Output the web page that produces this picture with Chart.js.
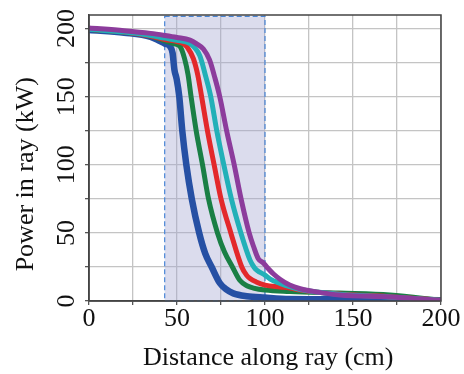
<!DOCTYPE html>
<html>
<head>
<meta charset="utf-8">
<script src="https://cdn.jsdelivr.net/npm/chart.js@4.4.1/dist/chart.umd.min.js"></script>
<style>
  html, body { margin: 0; padding: 0; background: #fff; }
</style>
</head>
<body>
<canvas id="grafico" width="464" height="374"></canvas>
<script>
// valores (distância em cm, potência em kW)
const distBlue = [0, 20, 35, 40, 43, 46, 47.5, 48.5, 49.8, 51.3, 53, 55.3, 58.4, 62.6, 66, 69.7, 74.4, 78, 82, 89.6, 100, 114, 150, 200];
const powerBlue = [199, 197, 194, 191, 189, 187, 182, 170, 163, 150, 125, 100, 75, 50, 35, 25, 13, 8.5, 5.6, 3.5, 2.5, 1.5, 1.2, 0.5];

const distGreen = [0, 20, 35, 43, 48, 51.7, 54.3, 56.3, 58, 60.9, 64.5, 67.9, 73, 77, 81.5, 85.8, 90, 93.4, 100, 114, 142, 171, 200];
const powerGreen = [199.5, 197.3, 194.5, 191, 189, 187, 178, 166, 150, 125, 100, 75, 50, 36, 25, 15, 11, 9.5, 8, 7, 5.8, 4.4, 0.5];

const distRed = [0, 20, 35, 43, 50, 53.6, 56, 59.3, 61.8, 64, 67.3, 71.1, 75, 80.6, 86.8, 89.5, 91.5, 95, 100, 108.5, 114, 120, 142, 170, 200];
const powerRed = [199.5, 197.5, 194.5, 192, 190.5, 189, 186, 178, 166, 150, 125, 100, 75, 50, 25, 19, 16.5, 14, 11.7, 10.3, 9.5, 8, 5.2, 3.2, 0.5];

const distCyan = [0, 20, 35, 43, 50, 57.4, 60, 63, 66.3, 69.2, 72.6, 76.6, 80.9, 86.3, 91.5, 93.7, 95.3, 100, 103, 108.5, 114, 120, 142, 170, 200];
const powerCyan = [199.5, 197.5, 195, 193, 191.5, 189, 186, 180, 165, 150, 125, 100, 75, 50, 30, 25, 22.7, 19, 16, 13, 10.5, 8.5, 5, 3, 0.5];

const distPurple = [0, 20, 35, 43, 50, 57.4, 61, 65, 68.5, 71.5, 74.3, 78.2, 82.5, 86.4, 91, 93.5, 96.2, 99, 101, 104.7, 108.5, 114, 120, 130, 142.6, 171, 200];
const powerPurple = [200.5, 198.5, 196.5, 195, 193.5, 191.5, 189, 185, 177, 164, 150, 125, 100, 75, 50, 40, 31, 28, 25, 20, 16, 11.7, 9, 6.5, 4.4, 3, 0.5];

// faixa sombreada
const shadeDist = [43, 100];
const shadePower = [0, 209];

const fonte = 'Liberation Serif, Times New Roman, serif';

function pontos(xs, ys) {
  return xs.map((x, i) => ({ x: x, y: ys[i] }));
}

function serie(label, xs, ys, cor, largura, ordem) {
  return {
    label: label,
    data: pontos(xs, ys),
    borderColor: cor,
    borderWidth: largura,
    pointRadius: 0,
    fill: false,
    cubicInterpolationMode: 'monotone',
    borderJoinStyle: 'round',
    order: ordem,
    clip: 0
  };
}

const rotulo = v => (v % 50 === 0 ? String(v) : '');

const faixaPlugin = {
  id: 'faixa',
  beforeDatasetsDraw(chart) {
    const { ctx, scales: { x, y } } = chart;
    const x0 = x.getPixelForValue(shadeDist[0]);
    const x1 = x.getPixelForValue(shadeDist[1]);
    const y0 = y.getPixelForValue(shadePower[0]);
    const y1 = y.getPixelForValue(shadePower[1]);
    ctx.save();
    ctx.fillStyle = 'rgba(160,164,208,0.38)';
    ctx.fillRect(x0, y1, x1 - x0, y0 - y1);
    ctx.setLineDash([5, 3]);
    ctx.strokeStyle = '#4a86d6';
    ctx.lineWidth = 1.2;
    ctx.strokeRect(x0, y1, x1 - x0, y0 - y1);
    ctx.restore();
  }
};

const molduraPlugin = {
  id: 'moldura',
  afterDatasetsDraw(chart) {
    const { ctx, chartArea: a } = chart;
    ctx.save();
    ctx.strokeStyle = '#444';
    ctx.lineWidth = 1.5;
    ctx.strokeRect(a.left, a.top, a.right - a.left, a.bottom - a.top);
    ctx.restore();
  }
};

// rótulos do eixo y girados (lidos de baixo para cima, como na figura)
const rotulosYPlugin = {
  id: 'rotulosY',
  afterDraw(chart) {
    const { ctx, scales: { y } } = chart;
    ctx.save();
    ctx.fillStyle = '#111';
    ctx.font = '26px ' + fonte;
    ctx.textAlign = 'center';
    ctx.textBaseline = 'middle';
    y.ticks.forEach(t => {
      const txt = rotulo(t.value);
      if (!txt) return;
      ctx.save();
      ctx.translate(y.right - 21.5, y.getPixelForValue(t.value));
      ctx.rotate(-Math.PI / 2);
      ctx.fillText(txt, 0, 0);
      ctx.restore();
    });
    ctx.restore();
  }
};

new Chart(document.getElementById('grafico').getContext('2d'), {
  type: 'line',
  data: {
    datasets: [
      serie('blue', distBlue, powerBlue, '#2650a4', 6.5, 5),
      serie('green', distGreen, powerGreen, '#1a7f45', 5, 4),
      serie('red', distRed, powerRed, '#e3282b', 5, 3),
      serie('cyan', distCyan, powerCyan, '#22b0b8', 5, 2),
      serie('purple', distPurple, powerPurple, '#8c3c9c', 5, 1)
    ]
  },
  options: {
    responsive: false,
    animation: false,
    layout: { padding: { top: 15, right: 23, left: 0, bottom: 0 } },
    plugins: { legend: { display: false }, tooltip: { enabled: false } },
    scales: {
      x: {
        type: 'linear',
        min: 0,
        max: 200,
        ticks: {
          stepSize: 25,
          autoSkip: false,
          maxRotation: 0,
          padding: -1,
          color: '#111',
          font: { family: fonte, size: 26 },
          callback: rotulo
        },
        grid: { color: '#c4c4c4', lineWidth: 1.3, tickLength: 4, tickColor: '#555' },
        border: { color: '#444', width: 1.5 },
        title: {
          display: true,
          text: ' Distance along ray (cm)',
          color: '#111',
          font: { family: fonte, size: 26 },
          padding: { top: 0, bottom: 0 }
        },
        afterFit: s => { s.height = 73; }
      },
      y: {
        min: 0,
        max: 210,
        ticks: {
          stepSize: 25,
          includeBounds: false,
          autoSkip: false,
          display: false,
          callback: rotulo
        },
        grid: { color: '#c4c4c4', lineWidth: 1.3, tickLength: 4, tickColor: '#555' },
        border: { color: '#444', width: 1.5 },
        title: {
          display: true,
          text: 'Power in ray (kW)     ',
          color: '#111',
          font: { family: fonte, size: 26 },
          padding: { top: 11, bottom: 0 }
        },
        afterFit: s => { s.width = 89; }
      }
    }
  },
  plugins: [faixaPlugin, molduraPlugin, rotulosYPlugin]
});
</script>
</body>
</html>
